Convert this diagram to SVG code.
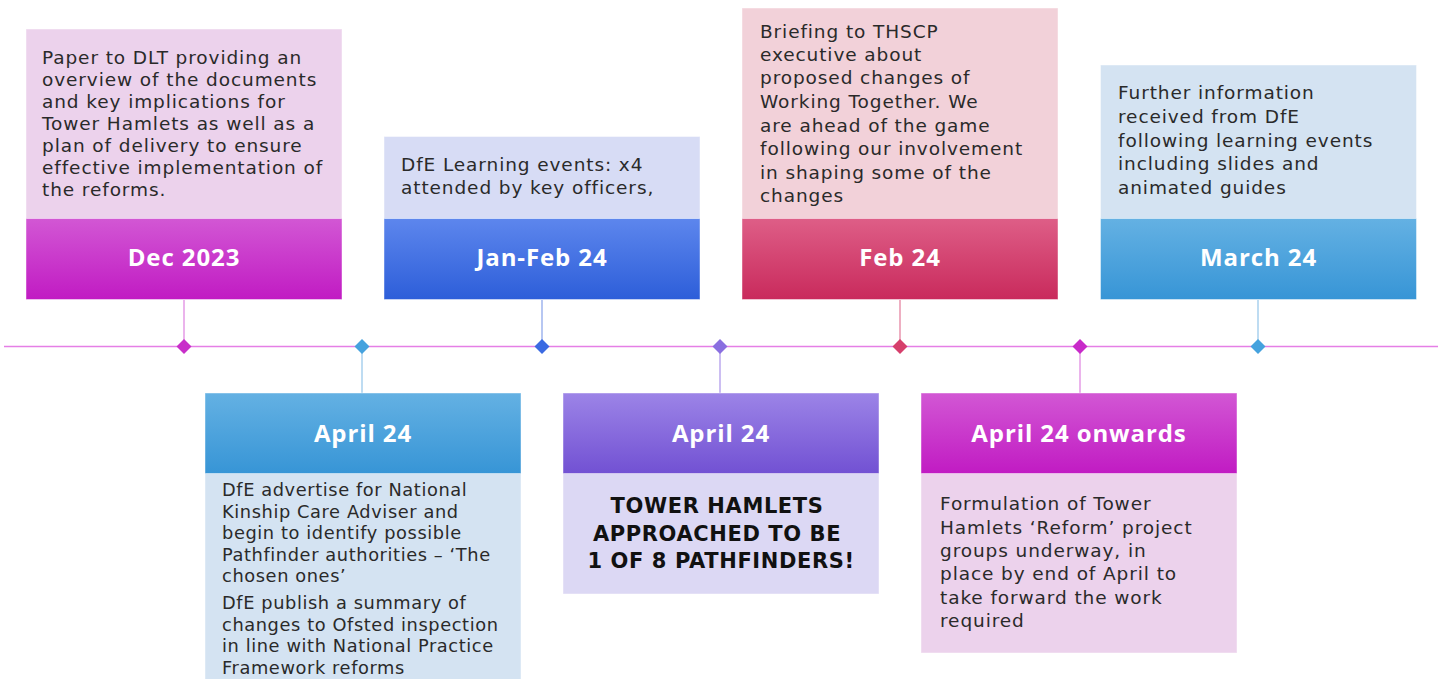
<svg xmlns="http://www.w3.org/2000/svg" width="1445" height="679" viewBox="0 0 1445 679">
  <defs>
    <linearGradient id="gMagenta" x1="0" y1="0" x2="0" y2="1">
      <stop offset="0" stop-color="#d257d4"/>
      <stop offset="1" stop-color="#c11bc3"/>
    </linearGradient>
    <linearGradient id="gBlue" x1="0" y1="0" x2="0" y2="1">
      <stop offset="0" stop-color="#5d86ed"/>
      <stop offset="1" stop-color="#2d5ed9"/>
    </linearGradient>
    <linearGradient id="gRose" x1="0" y1="0" x2="0" y2="1">
      <stop offset="0" stop-color="#de5e87"/>
      <stop offset="1" stop-color="#c92a5c"/>
    </linearGradient>
    <linearGradient id="gSky" x1="0" y1="0" x2="0" y2="1">
      <stop offset="0" stop-color="#64b1e3"/>
      <stop offset="1" stop-color="#3795d6"/>
    </linearGradient>
    <linearGradient id="gViolet" x1="0" y1="0" x2="0" y2="1">
      <stop offset="0" stop-color="#9c84e7"/>
      <stop offset="1" stop-color="#7251d3"/>
    </linearGradient>
  </defs>
  <style>
    .body { font-family: "DejaVu Sans", "Open Sans", sans-serif; font-size: 18.5px; fill: #2a2a2a; letter-spacing: 0.9px; }
    .body.small { font-size: 17.8px; letter-spacing: 0.6px; }
    .head { font-family: "Open Sans", "Liberation Sans", sans-serif; font-size: 24px; font-weight: 700; fill: #ffffff; text-anchor: middle; letter-spacing: 0.9px; }
    .shout { font-family: "DejaVu Sans", "Open Sans", sans-serif; font-size: 21px; font-weight: 700; fill: #111111; text-anchor: middle; letter-spacing: 0.6px; }
    .frame { stroke: #ffffff; stroke-opacity: 0.45; stroke-width: 1; }
    .link { fill: none; stroke-width: 1.5; }
  </style>

  <!-- timeline axis, stems and diamond markers -->
  <g id="connectors">
    <line x1="4" y1="346.5" x2="1438" y2="346.5" stroke="#e57fe6" stroke-width="1.5"/>
    <line class="link" x1="184" y1="300" x2="184" y2="346" stroke="#e49be6"/>
    <line class="link" x1="542" y1="300" x2="542" y2="346" stroke="#9fb5ee"/>
    <line class="link" x1="900" y1="300" x2="900" y2="346" stroke="#e995ae"/>
    <line class="link" x1="1258" y1="300" x2="1258" y2="346" stroke="#a9d0ee"/>
    <line class="link" x1="362" y1="346" x2="362" y2="393" stroke="#a9d0ee"/>
    <line class="link" x1="720" y1="346" x2="720" y2="393" stroke="#bba9ee"/>
    <line class="link" x1="1080" y1="346" x2="1080" y2="393" stroke="#e49be6"/>
    <polygon points="184,339 191.5,346.5 184,354 176.5,346.5" fill="#c82ec9"/>
    <polygon points="362,339 369.5,346.5 362,354 354.5,346.5" fill="#45a2de"/>
    <polygon points="542,339 549.5,346.5 542,354 534.5,346.5" fill="#3b6ae2"/>
    <polygon points="720,339 727.5,346.5 720,354 712.5,346.5" fill="#8a6fe0"/>
    <polygon points="900,339 907.5,346.5 900,354 892.5,346.5" fill="#d63f6c"/>
    <polygon points="1080,339 1087.5,346.5 1080,354 1072.5,346.5" fill="#c82ac9"/>
    <polygon points="1258,339 1265.5,346.5 1258,354 1250.5,346.5" fill="#45a2de"/>
  </g>

  <g id="dec-2023">
    <rect class="frame" x="26" y="29" width="316" height="190" fill="#ecd2ec"/>
    <rect class="frame" x="26" y="218.5" width="316" height="81" fill="url(#gMagenta)"/>
    <text class="head" x="184" y="266">Dec 2023</text>
    <text class="body">
      <tspan x="42" y="64">Paper to DLT providing an</tspan>
      <tspan x="42" y="86">overview of the documents</tspan>
      <tspan x="42" y="108">and key implications for</tspan>
      <tspan x="42" y="130">Tower Hamlets as well as a</tspan>
      <tspan x="42" y="152">plan of delivery to ensure</tspan>
      <tspan x="42" y="174">effective implementation of</tspan>
      <tspan x="42" y="196">the reforms.</tspan>
    </text>
  </g>

  <g id="jan-feb-24">
    <rect class="frame" x="384" y="136.5" width="316" height="82" fill="#d7dcf5"/>
    <rect class="frame" x="384" y="218.5" width="316" height="81" fill="url(#gBlue)"/>
    <text class="head" x="542" y="266">Jan-Feb 24</text>
    <text class="body">
      <tspan x="401" y="171">DfE Learning events: x4</tspan>
      <tspan x="401" y="194">attended by key officers,</tspan>
    </text>
  </g>

  <g id="feb-24">
    <rect class="frame" x="742" y="8" width="316" height="211" fill="#f2d1d9"/>
    <rect class="frame" x="742" y="218.5" width="316" height="81" fill="url(#gRose)"/>
    <text class="head" x="900" y="266">Feb 24</text>
    <text class="body">
      <tspan x="760" y="38">Briefing to THSCP</tspan>
      <tspan x="760" y="61">executive about</tspan>
      <tspan x="760" y="84">proposed changes of</tspan>
      <tspan x="760" y="108">Working Together. We</tspan>
      <tspan x="760" y="132">are ahead of the game</tspan>
      <tspan x="760" y="155">following our involvement</tspan>
      <tspan x="760" y="179">in shaping some of the</tspan>
      <tspan x="760" y="202">changes</tspan>
    </text>
  </g>

  <g id="march-24">
    <rect class="frame" x="1100.5" y="65" width="316" height="154" fill="#d4e3f2"/>
    <rect class="frame" x="1100.5" y="218.5" width="316" height="81" fill="url(#gSky)"/>
    <text class="head" x="1258.5" y="266">March 24</text>
    <text class="body">
      <tspan x="1118" y="99">Further information</tspan>
      <tspan x="1118" y="123">received from DfE</tspan>
      <tspan x="1118" y="147">following learning events</tspan>
      <tspan x="1118" y="170">including slides and</tspan>
      <tspan x="1118" y="194">animated guides</tspan>
    </text>
  </g>

  <g id="april-24-kinship">
    <rect class="frame" x="205" y="473" width="316" height="210" fill="#d4e3f2"/>
    <rect class="frame" x="205" y="393" width="316" height="80.5" fill="url(#gSky)"/>
    <text class="head" x="363" y="442">April 24</text>
    <text class="body small">
      <tspan x="222" y="496">DfE advertise for National</tspan>
      <tspan x="222" y="517.5">Kinship Care Adviser and</tspan>
      <tspan x="222" y="539">begin to identify possible</tspan>
      <tspan x="222" y="560.5">Pathfinder authorities  – ‘The</tspan>
      <tspan x="222" y="582">chosen ones’</tspan>
      <tspan x="222" y="609">DfE publish a summary of</tspan>
      <tspan x="222" y="630.5">changes to Ofsted inspection</tspan>
      <tspan x="222" y="652">in line with National Practice</tspan>
      <tspan x="222" y="673.5">Framework reforms</tspan>
    </text>
  </g>

  <g id="april-24-pathfinders">
    <rect class="frame" x="563" y="473" width="316" height="121" fill="#dcd8f4"/>
    <rect class="frame" x="563" y="393" width="316" height="80.5" fill="url(#gViolet)"/>
    <text class="head" x="721" y="442">April 24</text>
    <text class="shout">
      <tspan x="721" y="513">TOWER HAMLETS</tspan>
      <tspan x="721" y="540.5">APPROACHED TO BE</tspan>
      <tspan x="721" y="568">1 OF 8 PATHFINDERS!</tspan>
    </text>
  </g>

  <g id="april-24-onwards">
    <rect class="frame" x="921" y="473" width="316" height="180" fill="#ecd2ec"/>
    <rect class="frame" x="921" y="393" width="316" height="80.5" fill="url(#gMagenta)"/>
    <text class="head" x="1079" y="442">April 24 onwards</text>
    <text class="body">
      <tspan x="940" y="510">Formulation of Tower</tspan>
      <tspan x="940" y="534">Hamlets ‘Reform’ project</tspan>
      <tspan x="940" y="557">groups underway, in</tspan>
      <tspan x="940" y="580">place by end of April to</tspan>
      <tspan x="940" y="604">take forward the work</tspan>
      <tspan x="940" y="627">required</tspan>
    </text>
  </g>
</svg>
